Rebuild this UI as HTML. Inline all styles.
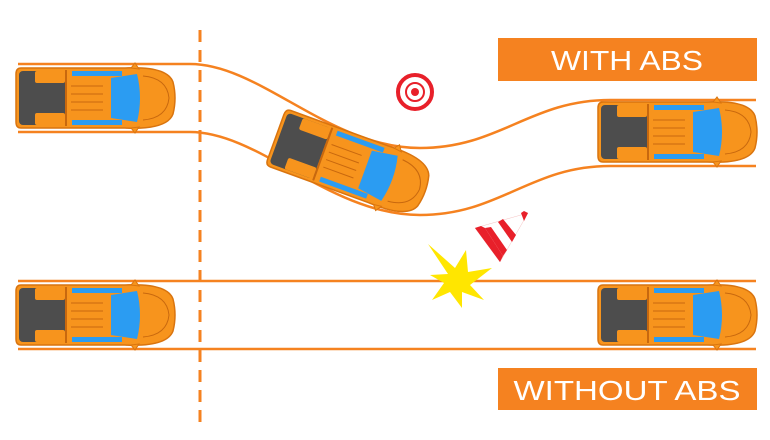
<!DOCTYPE html>
<html><head><meta charset="utf-8"><style>html,body{margin:0;padding:0;background:#fff}svg{display:block}</style></head>
<body>
<svg width="770" height="440" viewBox="0 0 770 440" xmlns="http://www.w3.org/2000/svg">
<defs>
<g id="car">
  <path d="M6,2 H110 Q152,0 158,16 Q162,32 158,48 Q152,64 110,62 H6 Q1,62 1,56 V8 Q1,2 6,2 Z" fill="#f7941d" stroke="#d9740f" stroke-width="1.5"/>
  <rect x="4" y="5" width="46" height="54" rx="4" fill="#4d4d4d"/>
  <rect x="20" y="5" width="30" height="12" rx="2" fill="#f7941d"/>
  <rect x="20" y="47" width="30" height="12" rx="2" fill="#f7941d"/>
  <rect x="50" y="4" width="2" height="56" fill="#c8680e"/>
  <path d="M96,12 L122,8 Q128,32 122,56 L96,52 Z" fill="#2b9cf2"/>
  <rect x="57" y="5" width="50" height="5" fill="#2b9cf2"/>
  <rect x="57" y="54" width="50" height="5" fill="#2b9cf2"/>
  <g stroke="#c8680e" stroke-width="1">
    <line x1="56" y1="20" x2="88" y2="20"/><line x1="56" y1="28" x2="88" y2="28"/>
    <line x1="56" y1="36" x2="88" y2="36"/><line x1="56" y1="44" x2="88" y2="44"/>
    <path d="M128,10 Q152,12 154,32 Q152,52 128,54" fill="none"/>
  </g>
  <path d="M116,2 L120,-3 L124,3 Z M116,62 L120,67 L124,61 Z" fill="#f7941d" stroke="#d9740f"/>
</g>
</defs>
<line x1="200" y1="30" x2="200" y2="425" stroke="#f58220" stroke-width="3" stroke-dasharray="12,8"/>
<g fill="none" stroke="#f58220" stroke-width="2.5">
  <path d="M18,64 H190 C260,64 330,148 420,148 C500,148 530,100 610,100 H756"/>
  <path d="M18,132 H190 C260,132 330,215 420,215 C500,215 530,166 610,166 H756"/>
  <line x1="18" y1="281" x2="756" y2="281"/>
  <line x1="18" y1="349" x2="756" y2="349"/>
</g>
<use href="#car" x="15" y="66"/>
<use href="#car" x="597" y="100"/>
<use href="#car" x="15" y="283"/>
<use href="#car" x="597" y="283"/>
<g transform="translate(350,164) rotate(20) translate(-80,-32)"><use href="#car"/></g>
<circle cx="415" cy="92" r="17" fill="none" stroke="#e8202a" stroke-width="4"/>
<circle cx="415" cy="92" r="9" fill="none" stroke="#e8202a" stroke-width="2"/>
<circle cx="415" cy="92" r="4" fill="#e8202a"/>
<polygon points="475,228 500,262 528,213" fill="#fff" stroke="#f4c0c0" stroke-width="0.5"/>
<polygon points="475,228 500,262 503,256 485,228 481,226" fill="#e8202a"/>
<polygon points="485,228 503,256 507,250 491,227" fill="#e8202a"/>
<polygon points="498,222 512,242 516,235 503,219" fill="#e8202a"/>
<polygon points="521,213 524,221 528,213 524,211" fill="#e8202a"/>
<polygon points="428,244 455,268 466,250 468,272 492,268 470,285 484,300 462,292 462,308 450,292 432,300 444,283 430,275 448,274" fill="#ffe600"/>
<rect x="498" y="38" width="259" height="43" fill="#f58220"/>
<text x="627" y="70" text-anchor="middle" font-family="Liberation Sans, sans-serif" font-size="28" fill="#fff" textLength="152" lengthAdjust="spacingAndGlyphs">WITH ABS</text>
<rect x="498" y="368" width="259" height="42" fill="#f58220"/>
<text x="627" y="400" text-anchor="middle" font-family="Liberation Sans, sans-serif" font-size="28" fill="#fff" textLength="227" lengthAdjust="spacingAndGlyphs">WITHOUT ABS</text>
</svg>
</body></html>
